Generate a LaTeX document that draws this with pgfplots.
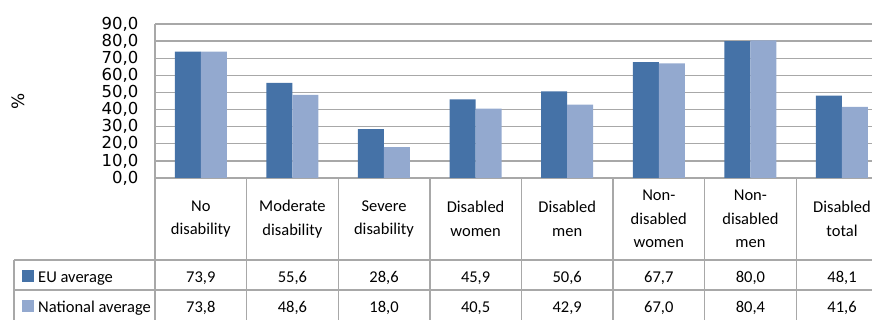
\documentclass[border=0pt]{standalone}
\usepackage{pgfplots}
\pgfplotsset{compat=1.18}
\usepackage{pgfplotstable}
\usepackage{fontspec}
\setmainfont{Carlito}
\newfontfamily\dejavu{DejaVu Sans}

\definecolor{eublue}{HTML}{4572A7}
\definecolor{natblue}{HTML}{93A9CF}
\definecolor{gridgray}{HTML}{A8A8A8}

% employment rates, EU average vs national average
\pgfplotstableread{
idx eu   nat
0   73.9 73.8
1   55.6 48.6
2   28.6 18.0
3   45.9 40.5
4   50.6 42.9
5   67.7 67.0
6   80.0 80.4
7   48.1 41.6
}\rates

\newcommand{\colw}{91.6}
\newcommand{\tabfont}{\fontsize{16.5}{23.5}\selectfont}

\begin{document}
\begin{tikzpicture}
\begin{axis}[
    at={(155pt,142pt)}, anchor=south west,
    scale only axis, width=717pt, height=154pt,
    xmin=-0.5, xmax=7.328, ymin=0, ymax=90,
    ytick={0,10,...,90},
    xtick=\empty,
    ymajorgrids,
    grid style={gridgray, line width=1.4pt},
    axis line style={draw=none},
    major tick length=0pt,
    ybar=0pt, bar width=26pt,
    yticklabel style={font=\dejavu\fontsize{16.5}{17}\selectfont, xshift=-13pt},
    /pgf/number format/.cd, fixed, fixed zerofill, precision=1, use comma, assume math mode=true,
]
\addplot [draw=none, fill=eublue] table [x=idx, y=eu] {\rates};
\addplot [draw=none, fill=natblue] table [x=idx, y=nat] {\rates};
\end{axis}

\begin{scope}[x=1pt, y=1pt]
% % label
\node [rotate=90, font=\dejavu\fontsize{17}{17}\selectfont] at (18,219) {\%};

% data table lines
\draw [gridgray, line width=1.4pt] (155,296) -- (155,0);
\draw [gridgray, line width=1.4pt] (14,60) -- (872,60);
\draw [gridgray, line width=1.4pt] (14,30) -- (872,30);
\draw [gridgray, line width=1.4pt] (14,60) -- (14,0);
\foreach \k in {1,...,7} {
    \draw [gridgray, line width=1.4pt] ({155+\k*\colw},142) -- ({155+\k*\colw},0);
}

% category labels
\foreach \k/\lab in {0/{No\\disability}, 1/{Moderate\\disability}, 2/{Severe\\disability},
    3/{Disabled\\women}, 4/{Disabled\\men}, 5/{Non-\\disabled\\women},
    6/{Non-\\disabled\\men}, 7/{Disabled\\total}} {
    \node [align=center, font=\tabfont, inner sep=0pt] at ({155+(\k+0.5)*\colw},101) {\lab};
}

% values
\foreach \k in {0,...,7} {
    \pgfplotstablegetelem{\k}{eu}\of\rates
    \let\v\pgfplotsretval
    \node [anchor=base, font=\tabfont, inner sep=0pt] at ({155+(\k+0.5)*\colw},37)
        {\pgfmathprintnumber[fixed,fixed zerofill,precision=1,use comma,assume math mode=true]{\v}};
    \pgfplotstablegetelem{\k}{nat}\of\rates
    \let\v\pgfplotsretval
    \node [anchor=base, font=\tabfont, inner sep=0pt] at ({155+(\k+0.5)*\colw},7)
        {\pgfmathprintnumber[fixed,fixed zerofill,precision=1,use comma,assume math mode=true]{\v}};
}

% legend keys in the table
\fill [eublue] (22,38) rectangle (34,50);
\fill [natblue] (22,8) rectangle (34,20);
\node [anchor=base west, font=\tabfont, inner sep=0pt] at (38,37) {EU average};
\node [anchor=base west, font=\tabfont, inner sep=0pt] at (38,7) {National average};

\pgfresetboundingbox
\useasboundingbox (0,0) rectangle (872,320);
\end{scope}
\end{tikzpicture}
\end{document}
